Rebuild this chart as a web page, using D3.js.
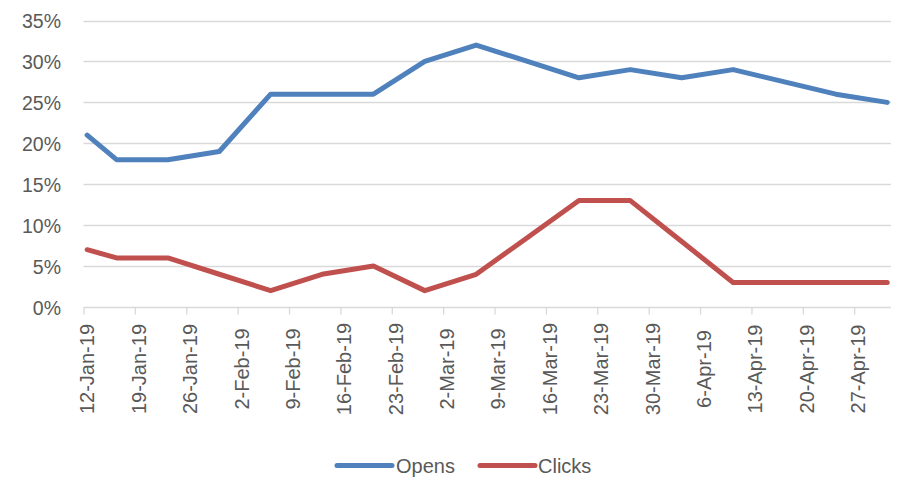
<!DOCTYPE html>
<html>
<head>
<meta charset="utf-8">
<script src="https://cdn.jsdelivr.net/npm/d3@7"></script>
<style>
  html, body { margin: 0; padding: 0; background: #fff; }
  svg { display: block; }
</style>
</head>
<body>
<svg id="chart" width="898" height="477"></svg>
<script>
// ---- Data ----
const dates = ["2019-01-12","2019-01-16","2019-01-23","2019-01-30","2019-02-06","2019-02-13","2019-02-20","2019-02-27","2019-03-06","2019-03-13","2019-03-20","2019-03-27","2019-04-03","2019-04-10","2019-04-17","2019-04-24","2019-05-01"];
const opens  = [0.21, 0.18, 0.18, 0.19, 0.26, 0.26, 0.26, 0.30, 0.32, 0.30, 0.28, 0.29, 0.28, 0.29, 0.275, 0.26, 0.25];
const clicks = [0.07, 0.06, 0.06, 0.04, 0.02, 0.04, 0.05, 0.02, 0.04, 0.085, 0.13, 0.13, 0.08, 0.03, 0.03, 0.03, 0.03];
const yTicks = [0, 0.05, 0.10, 0.15, 0.20, 0.25, 0.30, 0.35];
const seriesNames = ["Opens", "Clicks"];
const colors = ["#4F81BD", "#C0504D"];

(function () {
// ---- Layout ----
const svg = d3.select("#chart");
const pLeft = 83.5, pRight = 890.9, pTop = 20.5, pBottom = 307;
const parse = d3.utcParse("%Y-%m-%d");
const dayMs = 86400000;
const xDomainStart = parse(dates[0]);
const xDomainEnd = new Date(parse(dates[dates.length - 1]).getTime() + dayMs);
const x = d3.scaleUtc().domain([xDomainStart, xDomainEnd]).range([pLeft, pRight]);
const dayW = (pRight - pLeft) / ((xDomainEnd - xDomainStart) / dayMs);
const y = d3.scaleLinear().domain([0, 0.35]).range([pBottom, pTop]);

const textColor = "#595959";
const font = "'Liberation Sans', Arial, sans-serif";

// gridlines
svg.append("g").selectAll("line").data(yTicks).join("line")
  .attr("x1", pLeft).attr("x2", pRight)
  .attr("y1", d => Math.round(y(d)) + 0.5).attr("y2", d => Math.round(y(d)) + 0.5)
  .attr("stroke", "#d9d9d9").attr("stroke-width", 1.3);

// y labels
const yAxis = d3.axisLeft(y).tickValues(yTicks).tickFormat(d3.format(".0%")).tickSize(0).tickPadding(0);
const gy = svg.append("g").attr("transform", `translate(61,0)`).call(yAxis);
gy.select(".domain").remove();
gy.selectAll("text").attr("fill", textColor).style("font-family", font).style("font-size", "19.5px").attr("dy", "0.36em");

// x axis ticks (weekly)
const weekly = d3.range(0, 16).map(i => new Date(xDomainStart.getTime() + i * 7 * dayMs));
const xAxis = d3.axisBottom(x).tickValues(weekly).tickSize(7).tickFormat("");
const gx = svg.append("g").attr("transform", `translate(0,${Math.round(pBottom)+0.5})`).call(xAxis);
gx.select(".domain").remove();
gx.selectAll(".tick line").attr("stroke", "#d9d9d9").attr("stroke-width", 1.3);

// x labels rotated
svg.append("g").selectAll("text").data(weekly).join("text")
  .attr("transform", d => `translate(${x(d) + dayW / 2},369) rotate(-90)`)
  .attr("text-anchor", "middle").attr("dy", "0.36em")
  .attr("fill", textColor).style("font-family", font).style("font-size", "20px")
  .text(d => d3.utcFormat("%-d-%b-%y")(d));

// lines
const line = d3.line()
  .x(d => x(parse(d[0])) + dayW / 2)
  .y(d => y(d[1]));
[opens, clicks].forEach((vals, i) => {
  svg.append("path")
    .datum(dates.map((d, j) => [d, vals[j]]))
    .attr("d", line)
    .attr("fill", "none")
    .attr("stroke", colors[i])
    .attr("stroke-width", 5)
    .attr("stroke-linejoin", "round")
    .attr("stroke-linecap", "round");
});

// legend
const legendItems = [{x0: 337, x1: 392, tx: 396}, {x0: 480, x1: 535, tx: 538}];
const lg = svg.append("g");
seriesNames.forEach((name, i) => {
  const it = legendItems[i];
  lg.append("line").attr("x1", it.x0).attr("x2", it.x1).attr("y1", 465.5).attr("y2", 465.5)
    .attr("stroke", colors[i]).attr("stroke-width", 5).attr("stroke-linecap", "round");
  lg.append("text").attr("x", it.tx).attr("y", 465.5).attr("dy", "0.36em")
    .attr("fill", textColor).style("font-family", font).style("font-size", "20px").text(name);
});
})();
</script>
</body>
</html>
